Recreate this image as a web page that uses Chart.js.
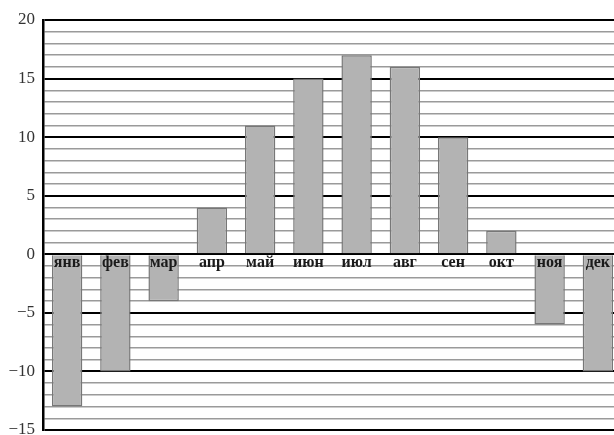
<!DOCTYPE html>
<html>
<head>
<meta charset="utf-8">
<script src="https://cdn.jsdelivr.net/npm/chart.js@4/dist/chart.umd.min.js"></script>
<style>
    html, body { margin: 0; padding: 0; background: #fff; overflow: hidden; }
    #wrap { width: 622px; height: 435px; }
</style>
</head>
<body>
<div id="wrap"><canvas id="tempChart"></canvas></div>
<script>
// Данные
const meses = ['янв', 'фев', 'мар', 'апр', 'май', 'июн', 'июл', 'авг', 'сен', 'окт', 'ноя', 'дек'];
const temperaturas = [-13, -10, -4, 4, 11, 15, 17, 16, 10, 2, -6, -10];
const yMin = -15;
const yMax = 20;
const yEtiquetas = [20, 15, 10, 5, 0, -5, -10, -15];

// Подписи месяцев под нулевой линией и подписи оси Y
const customLabels = {
    id: 'customLabels',
    afterDatasetsDraw(chart) {
        const ctx = chart.ctx;
        const x = chart.scales.x;
        const y = chart.scales.y;
        const y0 = y.getPixelForValue(0);
        ctx.save();
        ctx.font = 'bold 16px "Liberation Serif", serif';
        ctx.fillStyle = '#1a1a1a';
        ctx.textAlign = 'center';
        ctx.textBaseline = 'top';
        meses.forEach((m, i) => {
            ctx.fillText(m, x.getPixelForValue(i), y0 + 1);
        });

        ctx.font = '17px "Liberation Serif", serif';
        ctx.fillStyle = '#333';
        ctx.textAlign = 'right';
        ctx.textBaseline = 'middle';
        yEtiquetas.forEach(v => {
            ctx.fillText(String(v).replace('-', '\u2212'), 35, y.getPixelForValue(v));
        });
        ctx.restore();
    }
};

const ctx = document.getElementById('tempChart').getContext('2d');
new Chart(ctx, {
    type: 'bar',
    data: {
        labels: meses,
        datasets: [{
            data: temperaturas,
            backgroundColor: '#b3b3b3',
            borderColor: '#777',
            borderWidth: 1.5,
            categoryPercentage: 1,
            barPercentage: 0.63
        }]
    },
    options: {
        responsive: true,
        maintainAspectRatio: false,
        animation: false,
        layout: { padding: { top: 20, bottom: 5, right: 0, left: 0 } },
        plugins: {
            legend: { display: false },
            tooltip: { enabled: false }
        },
        scales: {
            x: {
                display: false
            },
            y: {
                min: yMin,
                max: yMax,
                afterFit(scale) { scale.width = 43; },
                ticks: {
                    display: false,
                    stepSize: 1,
                    autoSkip: false
                },
                grid: {
                    drawTicks: false,
                    color: c => c.tick.value % 5 === 0 ? '#000' : '#9a9a9a',
                    lineWidth: c => c.tick.value % 5 === 0 ? 2 : 1.4
                },
                border: { display: true, color: '#000', width: 2.5 }
            }
        }
    },
    plugins: [customLabels]
});
</script>
</body>
</html>
